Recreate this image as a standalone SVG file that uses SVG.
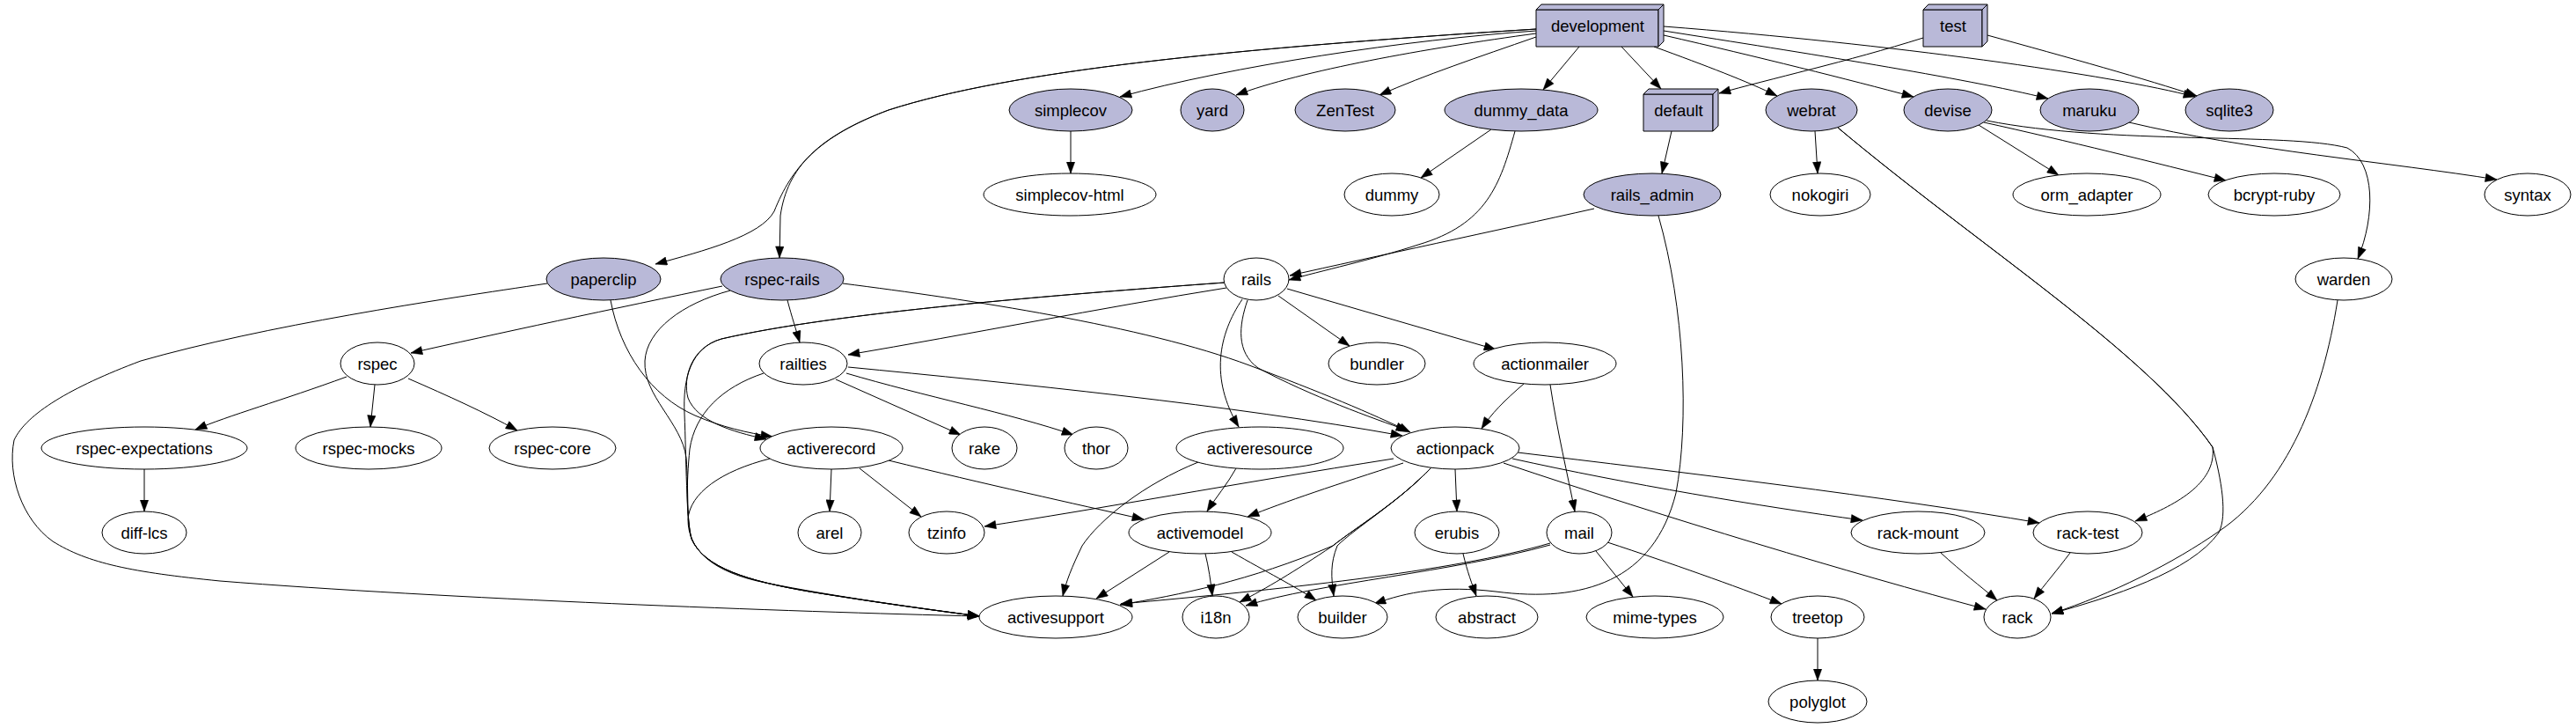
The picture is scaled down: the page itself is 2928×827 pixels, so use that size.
<svg xmlns="http://www.w3.org/2000/svg" width="2928" height="827" viewBox="0 0 2928 827">
<style>
.n ellipse{fill:#ffffff;stroke:#000;stroke-width:1}
.f ellipse,.f polygon{fill:#b9b9d8;stroke:#000;stroke-width:1}
.n polygon{stroke:#000;stroke-width:1}
text{font-family:"Liberation Sans",Arial,Helvetica,sans-serif;font-size:18.5px;fill:#000;text-anchor:middle}
#edges path{fill:none;stroke:#000;stroke-width:1;marker-end:url(#ah)}
</style>
<defs>
<marker id="ah" markerUnits="userSpaceOnUse" markerWidth="14" markerHeight="10" viewBox="0 0 13 10" refX="13" refY="5" orient="auto">
<path d="M0,0.3 L13,5 L0,9.7 z" fill="#000" stroke="#000" stroke-width="0.5"/>
</marker>
</defs>
<rect width="2928" height="827" fill="#fff"/>
<g id="edges">
<path d="M1746,35 C1600,45 1400,75 1273,110"/>
<path d="M1746,38 C1620,55 1480,80 1405,108"/>
<path d="M1746,42 C1680,65 1620,85 1568,108"/>
<path d="M1795,53 L1754,102"/>
<path d="M1843,53 L1888,101"/>
<path d="M1880,53 C1940,75 1985,92 2020,109"/>
<path d="M1891,40 C2000,65 2100,90 2175,110"/>
<path d="M1891,35 C2050,60 2230,88 2328,112"/>
<path d="M1891,30 C2150,50 2400,85 2495,110"/>
<path d="M1746,33 C1400,55 1150,80 1010,125 C930,155 900,190 880,240 C865,268 800,285 745,300"/>
<path d="M1746,33 C1400,55 1150,80 1010,125 C930,155 895,190 887,245 L886,293"/>
<path d="M2186,43 C2100,70 2010,90 1954,106"/>
<path d="M2259,40 C2350,65 2440,90 2497,109"/>
<path d="M1217,149 L1217,197"/>
<path d="M1695,147 L1615,202"/>
<path d="M1722,149 C1705,210 1690,255 1612,278 C1560,295 1500,308 1465,318"/>
<path d="M1900,149 L1889,197"/>
<path d="M1812,237 C1700,262 1560,292 1466,313"/>
<path d="M1885,245 C1915,350 1920,480 1905,560 C1880,660 1800,685 1700,672 C1640,665 1600,672 1562,686"/>
<path d="M2063,149 L2066,197"/>
<path d="M2089,145 C2250,280 2440,400 2515,508 C2520,550 2470,575 2427,592"/>
<path d="M2089,145 C2250,280 2440,400 2515,508 C2525,545 2532,585 2522,605 C2490,650 2400,678 2332,697"/>
<path d="M2657,341 C2640,450 2600,550 2523,603 C2470,640 2400,675 2332,697"/>
<path d="M2249,142 L2340,199"/>
<path d="M2255,139 C2350,160 2450,185 2530,205"/>
<path d="M2258,137 C2400,165 2600,150 2668,168 C2700,185 2700,245 2680,294"/>
<path d="M2420,139 C2550,170 2720,185 2838,204"/>
<path d="M622,322 C500,340 300,370 160,410 C80,440 30,470 16,500 C8,540 25,590 60,615 C100,640 150,650 250,660 C500,680 900,695 1113,700"/>
<path d="M694,341 C705,400 740,450 790,472 C820,485 850,492 878,496"/>
<path d="M821,325 C700,350 560,380 467,401"/>
<path d="M895,341 C900,360 905,375 909,389"/>
<path d="M958,322 C1100,340 1300,370 1420,415 C1500,445 1560,470 1603,491"/>
<path d="M830,330 C775,345 735,375 733,410 C731,450 775,480 780,520 C783,560 780,590 786,612 C800,645 850,660 920,672 C1000,685 1060,693 1113,700"/>
<path d="M868,424 C820,440 790,470 784,510 C780,550 780,590 786,612 C800,645 850,660 920,672 C1000,685 1060,693 1113,700"/>
<path d="M1392,321 C1200,335 950,355 820,385 C785,395 776,430 778,470 C780,520 780,590 786,612 C800,645 850,660 920,672 C1000,685 1060,693 1113,700"/>
<path d="M1392,321 C1200,335 950,355 820,385 C785,395 776,430 782,452 C792,478 830,490 871,499"/>
<path d="M1394,327 C1250,350 1100,380 964,403"/>
<path d="M950,431 L1092,494"/>
<path d="M962,424 C1050,450 1150,470 1220,494"/>
<path d="M964,417 C1150,435 1400,460 1594,495"/>
<path d="M1453,336 L1534,393"/>
<path d="M1463,328 L1700,397"/>
<path d="M1412,340 C1385,380 1375,430 1408,485"/>
<path d="M1418,341 C1408,370 1405,400 1430,418 C1490,450 1560,475 1600,489"/>
<path d="M1732,436 C1710,455 1695,470 1684,487"/>
<path d="M1762,437 C1770,490 1782,540 1790,581"/>
<path d="M394,428 C320,455 260,472 222,488"/>
<path d="M426,437 L421,485"/>
<path d="M464,430 C510,450 550,468 588,489"/>
<path d="M164,533 L164,581"/>
<path d="M945,533 L943,581"/>
<path d="M977,532 L1047,587"/>
<path d="M1010,523 C1120,550 1220,572 1300,590"/>
<path d="M875,521 C820,535 784,560 782,590 C782,625 810,650 870,662 C950,678 1040,690 1113,700"/>
<path d="M1405,532 C1395,550 1382,565 1372,581"/>
<path d="M1362,525 C1300,550 1250,590 1230,620 C1218,645 1212,660 1208,677"/>
<path d="M1654,533 L1656,581"/>
<path d="M1719,521 C1850,550 2000,575 2117,591"/>
<path d="M1725,514 C1900,535 2150,565 2318,594"/>
<path d="M1709,526 C1900,590 2100,650 2257,692"/>
<path d="M1595,526 C1520,550 1460,570 1418,587"/>
<path d="M1584,521 C1400,550 1250,578 1119,598"/>
<path d="M1627,531 C1590,570 1540,600 1520,620 C1512,640 1513,655 1516,677"/>
<path d="M1627,531 C1590,570 1540,600 1515,620 C1470,650 1440,668 1409,684"/>
<path d="M1627,531 C1590,570 1540,600 1515,620 C1420,660 1340,676 1273,687"/>
<path d="M1329,627 L1246,680"/>
<path d="M1370,629 C1374,645 1376,660 1378,677"/>
<path d="M1400,627 C1440,650 1470,665 1496,682"/>
<path d="M1762,617 C1650,650 1450,670 1274,686"/>
<path d="M1762,619 C1650,650 1500,662 1416,688"/>
<path d="M1814,626 L1856,678"/>
<path d="M1827,616 C1900,640 1970,665 2025,686"/>
<path d="M1663,629 C1668,650 1673,663 1678,677"/>
<path d="M2066,725 L2066,773"/>
<path d="M2206,628 C2230,650 2250,665 2270,682"/>
<path d="M2353,628 C2338,648 2325,663 2312,680"/>
</g>
<g id="development" class="n f"><polygon points="1746,11 1885,11 1885,53 1746,53"/><polygon points="1746,11 1752,5 1891,5 1885,11"/><polygon points="1885,11 1891,5 1891,47 1885,53"/><text x="1816" y="36">development</text></g>
<g id="test" class="n f"><polygon points="2186,11 2253,11 2253,53 2186,53"/><polygon points="2186,11 2192,5 2259,5 2253,11"/><polygon points="2253,11 2259,5 2259,47 2253,53"/><text x="2220" y="36">test</text></g>
<g id="default" class="n f"><polygon points="1868,107 1947,107 1947,149 1868,149"/><polygon points="1868,107 1874,101 1953,101 1947,107"/><polygon points="1947,107 1953,101 1953,143 1947,149"/><text x="1908" y="132">default</text></g>
<g id="simplecov" class="n f"><ellipse cx="1217" cy="125" rx="70" ry="24"/><text x="1217" y="131.5">simplecov</text></g>
<g id="yard" class="n f"><ellipse cx="1378" cy="125" rx="36" ry="24"/><text x="1378" y="131.5">yard</text></g>
<g id="ZenTest" class="n f"><ellipse cx="1529" cy="125" rx="57" ry="24"/><text x="1529" y="131.5">ZenTest</text></g>
<g id="dummy_data" class="n f"><ellipse cx="1729" cy="125" rx="87" ry="24"/><text x="1729" y="131.5">dummy_data</text></g>
<g id="webrat" class="n f"><ellipse cx="2059" cy="125" rx="52" ry="24"/><text x="2059" y="131.5">webrat</text></g>
<g id="devise" class="n f"><ellipse cx="2214" cy="125" rx="50" ry="24"/><text x="2214" y="131.5">devise</text></g>
<g id="maruku" class="n f"><ellipse cx="2375" cy="125" rx="56" ry="24"/><text x="2375" y="131.5">maruku</text></g>
<g id="sqlite3" class="n f"><ellipse cx="2534" cy="125" rx="50" ry="24"/><text x="2534" y="131.5">sqlite3</text></g>
<g id="simplecov-html" class="n"><ellipse cx="1216" cy="221" rx="98" ry="24"/><text x="1216" y="227.5">simplecov-html</text></g>
<g id="dummy" class="n"><ellipse cx="1582" cy="221" rx="54" ry="24"/><text x="1582" y="227.5">dummy</text></g>
<g id="rails_admin" class="n f"><ellipse cx="1878" cy="221" rx="78" ry="24"/><text x="1878" y="227.5">rails_admin</text></g>
<g id="nokogiri" class="n"><ellipse cx="2069" cy="221" rx="57" ry="24"/><text x="2069" y="227.5">nokogiri</text></g>
<g id="orm_adapter" class="n"><ellipse cx="2372" cy="221" rx="84" ry="24"/><text x="2372" y="227.5">orm_adapter</text></g>
<g id="bcrypt-ruby" class="n"><ellipse cx="2585" cy="221" rx="75" ry="24"/><text x="2585" y="227.5">bcrypt-ruby</text></g>
<g id="syntax" class="n"><ellipse cx="2873" cy="221" rx="49" ry="24"/><text x="2873" y="227.5">syntax</text></g>
<g id="paperclip" class="n f"><ellipse cx="686" cy="317" rx="65" ry="24"/><text x="686" y="323.5">paperclip</text></g>
<g id="rspec-rails" class="n f"><ellipse cx="889" cy="317" rx="70" ry="24"/><text x="889" y="323.5">rspec-rails</text></g>
<g id="rails" class="n"><ellipse cx="1428" cy="317" rx="37" ry="24"/><text x="1428" y="323.5">rails</text></g>
<g id="warden" class="n"><ellipse cx="2664" cy="317" rx="55" ry="24"/><text x="2664" y="323.5">warden</text></g>
<g id="rspec" class="n"><ellipse cx="429" cy="413" rx="42" ry="24"/><text x="429" y="419.5">rspec</text></g>
<g id="railties" class="n"><ellipse cx="913" cy="413" rx="50" ry="24"/><text x="913" y="419.5">railties</text></g>
<g id="bundler" class="n"><ellipse cx="1565" cy="413" rx="55" ry="24"/><text x="1565" y="419.5">bundler</text></g>
<g id="actionmailer" class="n"><ellipse cx="1756" cy="413" rx="81" ry="24"/><text x="1756" y="419.5">actionmailer</text></g>
<g id="rspec-expectations" class="n"><ellipse cx="164" cy="509" rx="117" ry="24"/><text x="164" y="515.5">rspec-expectations</text></g>
<g id="rspec-mocks" class="n"><ellipse cx="419" cy="509" rx="83" ry="24"/><text x="419" y="515.5">rspec-mocks</text></g>
<g id="rspec-core" class="n"><ellipse cx="628" cy="509" rx="72" ry="24"/><text x="628" y="515.5">rspec-core</text></g>
<g id="activerecord" class="n"><ellipse cx="945" cy="509" rx="81" ry="24"/><text x="945" y="515.5">activerecord</text></g>
<g id="rake" class="n"><ellipse cx="1119" cy="509" rx="37" ry="24"/><text x="1119" y="515.5">rake</text></g>
<g id="thor" class="n"><ellipse cx="1246" cy="509" rx="36" ry="24"/><text x="1246" y="515.5">thor</text></g>
<g id="activeresource" class="n"><ellipse cx="1432" cy="509" rx="95" ry="24"/><text x="1432" y="515.5">activeresource</text></g>
<g id="actionpack" class="n"><ellipse cx="1654" cy="509" rx="73" ry="24"/><text x="1654" y="515.5">actionpack</text></g>
<g id="diff-lcs" class="n"><ellipse cx="164" cy="605" rx="48" ry="24"/><text x="164" y="611.5">diff-lcs</text></g>
<g id="arel" class="n"><ellipse cx="943" cy="605" rx="36" ry="24"/><text x="943" y="611.5">arel</text></g>
<g id="tzinfo" class="n"><ellipse cx="1076" cy="605" rx="43" ry="24"/><text x="1076" y="611.5">tzinfo</text></g>
<g id="activemodel" class="n"><ellipse cx="1364" cy="605" rx="81" ry="24"/><text x="1364" y="611.5">activemodel</text></g>
<g id="erubis" class="n"><ellipse cx="1656" cy="605" rx="48" ry="24"/><text x="1656" y="611.5">erubis</text></g>
<g id="mail" class="n"><ellipse cx="1795" cy="605" rx="37" ry="24"/><text x="1795" y="611.5">mail</text></g>
<g id="rack-mount" class="n"><ellipse cx="2180" cy="605" rx="76" ry="24"/><text x="2180" y="611.5">rack-mount</text></g>
<g id="rack-test" class="n"><ellipse cx="2373" cy="605" rx="62" ry="24"/><text x="2373" y="611.5">rack-test</text></g>
<g id="activesupport" class="n"><ellipse cx="1200" cy="701" rx="87" ry="24"/><text x="1200" y="707.5">activesupport</text></g>
<g id="i18n" class="n"><ellipse cx="1382" cy="701" rx="38" ry="24"/><text x="1382" y="707.5">i18n</text></g>
<g id="builder" class="n"><ellipse cx="1526" cy="701" rx="51" ry="24"/><text x="1526" y="707.5">builder</text></g>
<g id="abstract" class="n"><ellipse cx="1690" cy="701" rx="58" ry="24"/><text x="1690" y="707.5">abstract</text></g>
<g id="mime-types" class="n"><ellipse cx="1881" cy="701" rx="78" ry="24"/><text x="1881" y="707.5">mime-types</text></g>
<g id="treetop" class="n"><ellipse cx="2066" cy="701" rx="53" ry="24"/><text x="2066" y="707.5">treetop</text></g>
<g id="rack" class="n"><ellipse cx="2293" cy="701" rx="38" ry="24"/><text x="2293" y="707.5">rack</text></g>
<g id="polyglot" class="n"><ellipse cx="2066" cy="797" rx="56" ry="24"/><text x="2066" y="803.5">polyglot</text></g>
</svg>
